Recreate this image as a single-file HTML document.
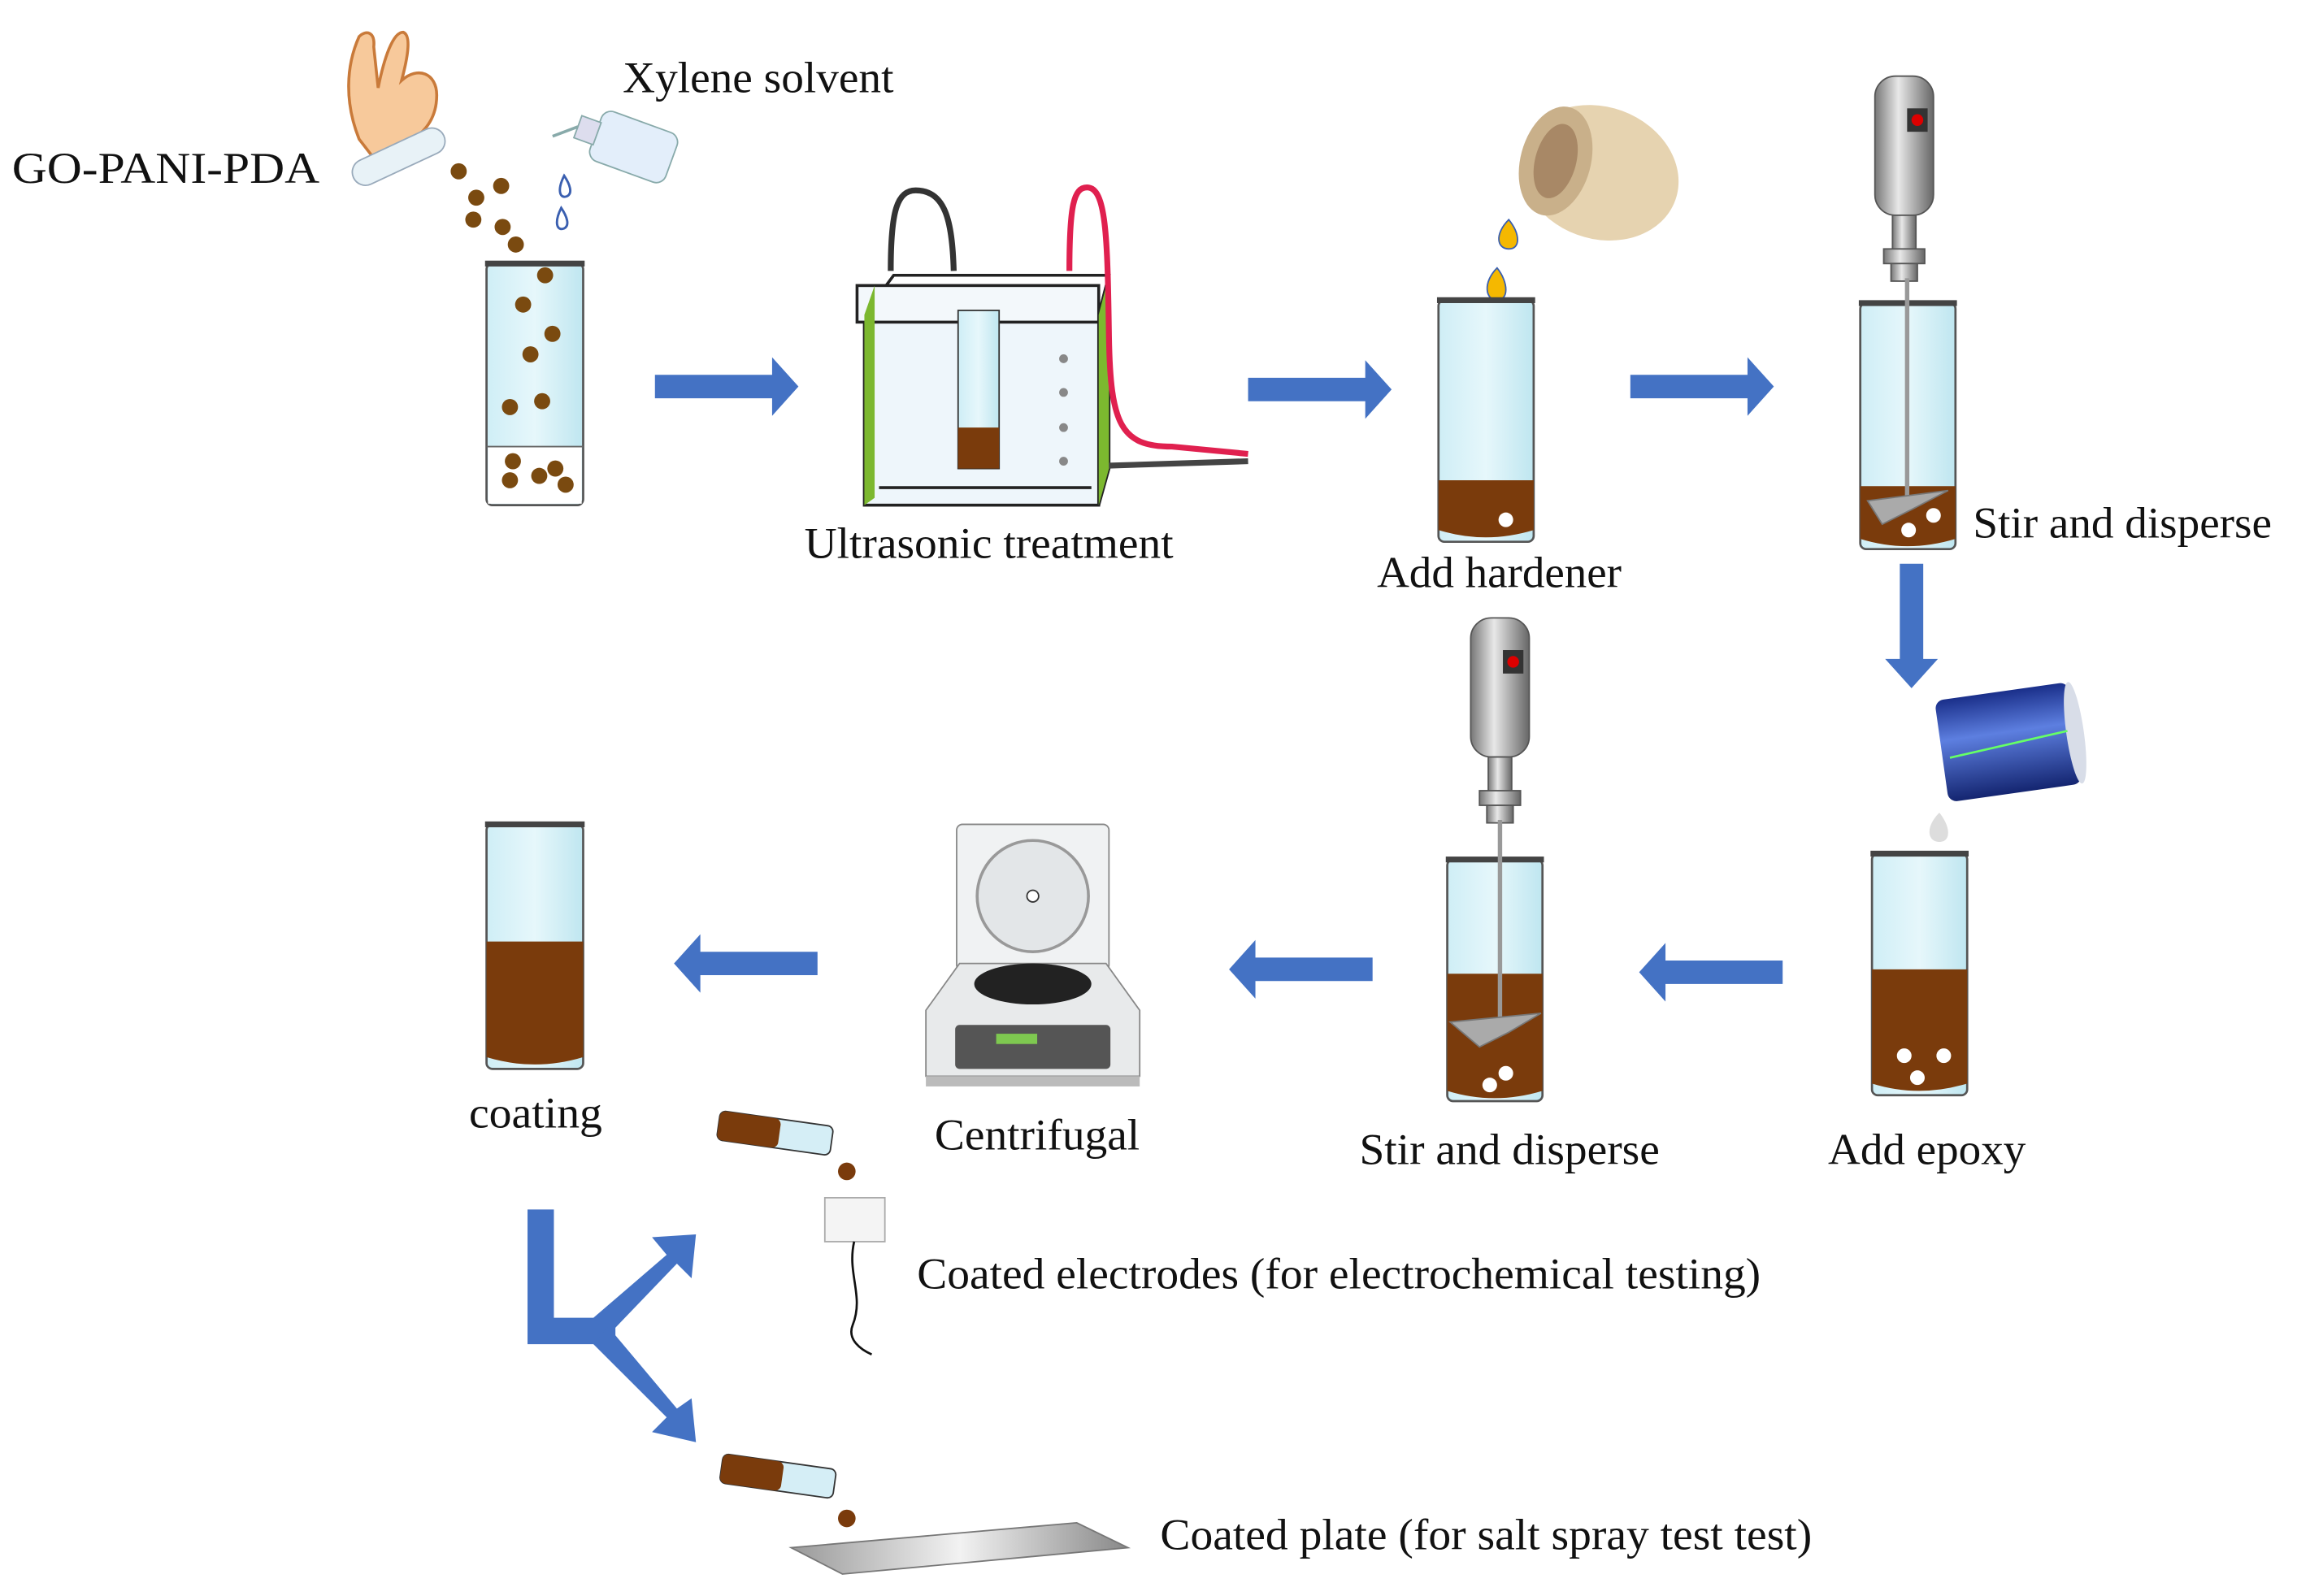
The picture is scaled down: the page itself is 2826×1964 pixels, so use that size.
<!DOCTYPE html>
<html><head><meta charset="utf-8"><style>html,body{margin:0;padding:0;background:#fff}svg{display:block}</style></head><body>
<svg width="2826" height="1964" viewBox="0 0 1568 1090" xmlns="http://www.w3.org/2000/svg" font-family="Liberation Serif, serif" font-size="30" fill="#111">
<defs>
<linearGradient id="gl" x1="0" x2="1"><stop offset="0" stop-color="#cfeef6"/><stop offset="0.5" stop-color="#e6f7fb"/><stop offset="1" stop-color="#bfe6f0"/></linearGradient>
<linearGradient id="met" x1="0" x2="1"><stop offset="0" stop-color="#777"/><stop offset="0.4" stop-color="#e8e8e8"/><stop offset="1" stop-color="#666"/></linearGradient>
<linearGradient id="can" x1="0" y1="0" x2="0" y2="1"><stop offset="0" stop-color="#1a2f8a"/><stop offset="0.4" stop-color="#5d7fe0"/><stop offset="1" stop-color="#142570"/></linearGradient>
<linearGradient id="plate" x1="0" x2="1"><stop offset="0" stop-color="#999"/><stop offset="0.5" stop-color="#f2f2f2"/><stop offset="1" stop-color="#888"/></linearGradient>
<g id="arr"><path d="M0,-8 H80 V-20 L98,0 L80,20 V8 H0 Z" fill="#4472c4"/></g>
<g id="larr"><path d="M0,-8 H-80 V-20 L-98,0 L-80,20 V8 H0 Z" fill="#4472c4"/></g>
<g id="motor">
<rect x="-20" y="0" width="40" height="95" rx="14" fill="url(#met)" stroke="#555"/>
<rect x="2" y="22" width="14" height="16" fill="#333"/><circle cx="9" cy="30" r="4" fill="#d00"/>
<rect x="-8" y="95" width="16" height="25" fill="url(#met)" stroke="#555"/>
<rect x="-14" y="118" width="28" height="10" fill="url(#met)" stroke="#555"/>
<rect x="-9" y="128" width="18" height="12" fill="url(#met)" stroke="#555"/>
</g>
</defs>

<!-- texts -->
<text x="8" y="125" textLength="210" lengthAdjust="spacingAndGlyphs">GO-PANI-PDA</text>
<text x="425" y="63" textLength="185" lengthAdjust="spacingAndGlyphs">Xylene solvent</text>
<text x="549" y="381" textLength="252" lengthAdjust="spacingAndGlyphs">Ultrasonic treatment</text>
<text x="940" y="401" textLength="167" lengthAdjust="spacingAndGlyphs">Add hardener</text>
<text x="1347" y="367" textLength="204" lengthAdjust="spacingAndGlyphs">Stir and disperse</text>
<text x="1248" y="795" textLength="135" lengthAdjust="spacingAndGlyphs">Add epoxy</text>
<text x="928" y="795" textLength="205" lengthAdjust="spacingAndGlyphs">Stir and disperse</text>
<text x="638" y="785" textLength="140" lengthAdjust="spacingAndGlyphs">Centrifugal</text>
<text x="320" y="770" textLength="91" lengthAdjust="spacingAndGlyphs">coating</text>
<text x="626" y="880" textLength="576" lengthAdjust="spacingAndGlyphs">Coated electrodes (for electrochemical testing)</text>
<text x="792" y="1058" textLength="445" lengthAdjust="spacingAndGlyphs">Coated plate (for salt spray test test)</text>

<!-- hand + tube -->
<path d="M245,95 C235,70 236,45 245,25 C250,20 256,22 255,32 L258,60 C262,40 268,22 275,22 C281,24 278,40 274,55 C285,45 298,50 298,65 C298,82 288,95 270,100 L255,108 Z" fill="#f7c99b" stroke="#c97a3a" stroke-width="2"/>
<rect x="238" y="98" width="68" height="18" rx="9" transform="rotate(-25 272 107)" fill="#e8f2f7" stroke="#9ab"/>
<!-- bottle -->
<g transform="rotate(20 420 98)"><rect x="405" y="78" width="55" height="36" rx="7" fill="#e3eefa" stroke="#8aa"/><rect x="392" y="88" width="14" height="16" fill="#dde" stroke="#8aa"/><path d="M392,96 L378,108" stroke="#8aa" stroke-width="2"/></g>
<g fill="#7a4a10">
<circle cx="313" cy="117" r="5.5"/><circle cx="342" cy="127" r="5.5"/><circle cx="325" cy="135" r="5.5"/><circle cx="323" cy="150" r="5.5"/><circle cx="343" cy="155" r="5.5"/><circle cx="352" cy="167" r="5.5"/>
</g>
<path d="M385,120 C380,130 382,136 387,134 C391,132 389,126 385,120Z" fill="none" stroke="#3a5fb0" stroke-width="1.6"/>
<path d="M383,142 C378,152 380,158 385,156 C389,154 387,148 383,142Z" fill="none" stroke="#3a5fb0" stroke-width="1.6"/>

<!-- beaker 1 -->
<rect x="332" y="180" width="66" height="165" rx="4" fill="url(#gl)" stroke="#555" stroke-width="1.5"/>
<rect x="333" y="305" width="64" height="39" fill="#fff"/>
<line x1="332" y1="305" x2="398" y2="305" stroke="#666"/>
<rect x="331" y="178" width="68" height="4" fill="#444"/>
<g fill="#7a4a10"><circle cx="372" cy="188" r="5.5"/><circle cx="357" cy="208" r="5.5"/><circle cx="377" cy="228" r="5.5"/><circle cx="362" cy="242" r="5.5"/><circle cx="348" cy="278" r="5.5"/><circle cx="370" cy="274" r="5.5"/><circle cx="350" cy="315" r="5.5"/><circle cx="348" cy="328" r="5.5"/><circle cx="368" cy="325" r="5.5"/><circle cx="379" cy="320" r="5.5"/><circle cx="386" cy="331" r="5.5"/></g>

<use href="#arr" x="447" y="264"/>

<!-- ultrasonic -->
<g stroke="#222" stroke-width="2" fill="none">
<rect x="590" y="215" width="160" height="130" fill="#eef6fb"/>
<path d="M590,215 L610,188 L757,188 L750,215"/>
<rect x="585" y="195" width="165" height="25" fill="#f3f8fb"/>
<path d="M750,215 L757,188 V320 L750,345"/>
<line x1="600" y1="333" x2="745" y2="333"/>
</g>
<path d="M750,215 L757,188 V320 L750,345Z" fill="#7cb82f"/>
<path d="M590,215 L597,195 V340 L590,345Z" fill="#7cb82f"/>
<rect x="654" y="212" width="28" height="108" fill="url(#gl)" stroke="#333"/>
<rect x="654" y="292" width="28" height="28" fill="#7a3b0c"/>
<g fill="#888"><circle cx="726" cy="245" r="3"/><circle cx="726" cy="268" r="3"/><circle cx="726" cy="292" r="3"/><circle cx="726" cy="315" r="3"/></g>
<path d="M608,185 C608,145 612,130 625,130 C645,130 650,150 651,185" fill="none" stroke="#333" stroke-width="4"/>
<path d="M730,185 C730,140 733,128 742,128 C755,128 756,160 757,230 C758,290 765,305 800,305 L852,310" fill="none" stroke="#e0204f" stroke-width="4"/>
<path d="M757,318 L852,315" stroke="#444" stroke-width="4"/>

<use href="#arr" x="852" y="266"/>

<!-- hardener pot -->
<ellipse cx="1092" cy="118" rx="55" ry="45" fill="#e6d3b0" transform="rotate(20 1092 118)"/>
<ellipse cx="1062" cy="110" rx="24" ry="38" fill="#c9b08a" transform="rotate(15 1062 110)"/>
<ellipse cx="1062" cy="110" rx="14" ry="26" fill="#a88866" transform="rotate(15 1062 110)"/>
<path d="M1030,150 C1020,160 1022,170 1030,170 C1038,170 1038,160 1030,150Z" fill="#f5b800" stroke="#3a5fb0"/>
<path d="M1022,183 C1012,193 1014,205 1022,205 C1030,205 1030,193 1022,183Z" fill="#f5b800" stroke="#3a5fb0"/>
<!-- beaker 2 -->
<rect x="982" y="205" width="65" height="165" rx="4" fill="url(#gl)" stroke="#555" stroke-width="1.5"/>
<path d="M982,328 H1047 V362 Q1014,372 982,362Z" fill="#7a3b0c"/>
<circle cx="1028" cy="355" r="5" fill="#fff"/>
<rect x="981" y="203" width="67" height="4" fill="#444"/>

<use href="#arr" x="1113" y="264"/>

<!-- stirrer 1 -->
<use href="#motor" x="1300" y="52"/>
<rect x="1270" y="207" width="65" height="168" rx="4" fill="url(#gl)" stroke="#555" stroke-width="1.5"/>
<path d="M1270,332 H1335 V368 Q1302,378 1270,368Z" fill="#7a3b0c"/>
<rect x="1269" y="205" width="67" height="4" fill="#444"/>
<line x1="1302" y1="190" x2="1302" y2="340" stroke="#999" stroke-width="3"/>
<path d="M1275,342 L1330,335 L1305,348 L1285,358Z" fill="#aaa" stroke="#777"/>
<circle cx="1320" cy="352" r="5" fill="#fff"/><circle cx="1303" cy="362" r="5" fill="#fff"/>

<!-- down arrow -->
<path d="M1297,385 H1313 V450 H1323 L1305,470 L1287,450 H1297Z" fill="#4472c4"/>
<!-- can -->
<g transform="rotate(-8 1370 506)"><rect x="1325" y="472" width="92" height="70" rx="6" fill="url(#can)"/><ellipse cx="1417" cy="507" rx="6" ry="35" fill="#d8dde8"/><line x1="1330" y1="512" x2="1412" y2="505" stroke="#6f6" stroke-width="1.5"/></g>
<!-- epoxy beaker -->
<path d="M1324,555 C1314,565 1316,575 1324,575 C1332,575 1332,565 1324,555Z" fill="#ddd"/>
<path d="M1320,594 C1310,604 1312,614 1320,614 C1328,614 1328,604 1320,594Z" fill="#ddd"/>
<rect x="1278" y="583" width="65" height="165" rx="4" fill="url(#gl)" stroke="#555" stroke-width="1.5"/>
<path d="M1278,662 H1343 V740 Q1310,750 1278,740Z" fill="#7a3b0c"/>
<rect x="1277" y="581" width="67" height="4" fill="#444"/>
<circle cx="1300" cy="721" r="5" fill="#fff"/><circle cx="1327" cy="721" r="5" fill="#fff"/><circle cx="1309" cy="736" r="5" fill="#fff"/>

<use href="#larr" x="1217" y="664"/>

<!-- stirrer 2 -->
<use href="#motor" x="1024" y="422"/>
<rect x="988" y="587" width="65" height="165" rx="4" fill="url(#gl)" stroke="#555" stroke-width="1.5"/>
<path d="M988,665 H1053 V745 Q1020,755 988,745Z" fill="#7a3b0c"/>
<rect x="987" y="585" width="67" height="4" fill="#444"/>
<line x1="1024" y1="560" x2="1024" y2="698" stroke="#999" stroke-width="3"/>
<path d="M990,698 L1052,692 L1030,705 L1010,715Z" fill="#aaa" stroke="#777"/>
<circle cx="1028" cy="733" r="5" fill="#fff"/><circle cx="1017" cy="741" r="5" fill="#fff"/>

<use href="#larr" x="937" y="662"/>

<!-- centrifuge -->
<rect x="653" y="563" width="104" height="100" rx="4" fill="#f0f2f3" stroke="#888"/>
<circle cx="705" cy="612" r="38" fill="#e3e6e8" stroke="#999" stroke-width="2"/>
<circle cx="705" cy="612" r="4" fill="#fff" stroke="#333"/>
<path d="M632,690 L655,658 H755 L778,690 V735 H632Z" fill="#e8eaeb" stroke="#888"/>
<ellipse cx="705" cy="672" rx="40" ry="14" fill="#222"/>
<rect x="652" y="700" width="106" height="30" rx="3" fill="#555"/>
<rect x="680" y="706" width="28" height="7" fill="#7ec850"/>
<rect x="632" y="735" width="146" height="7" fill="#bbb"/>

<use href="#larr" x="558" y="658"/>

<!-- coating beaker -->
<rect x="332" y="563" width="66" height="167" rx="4" fill="url(#gl)" stroke="#555" stroke-width="1.5"/>
<path d="M332,643 H398 V722 Q365,732 332,722Z" fill="#7a3b0c"/>
<rect x="331" y="561" width="68" height="4" fill="#444"/>

<!-- tube 1 -->
<g transform="rotate(8 530 774)"><rect x="490" y="764" width="78" height="20" rx="4" fill="#d5eef6" stroke="#333"/><rect x="490" y="764" width="42" height="20" rx="4" fill="#7a3b0c"/></g>
<circle cx="578" cy="800" r="6" fill="#7a3b0c"/>
<rect x="563" y="818" width="41" height="30" fill="#f4f4f4" stroke="#aaa"/>
<path d="M583,848 C578,870 590,885 582,905 C578,915 588,922 595,925" fill="none" stroke="#111" stroke-width="1.5"/>

<!-- branch arrow -->
<path d="M360,826 H378 V900 H420 V918 H360Z" fill="#4472c4"/>
<path d="M405,900 L455,857 L445,845 L475,843 L472,873 L462,863 L415,912Z" fill="#4472c4"/>
<path d="M405,918 L455,968 L445,978 L475,985 L472,955 L462,962 L415,906Z" fill="#4472c4"/>

<!-- tube 2 -->
<g transform="rotate(8 530 1008)"><rect x="492" y="998" width="78" height="20" rx="4" fill="#d5eef6" stroke="#333"/><rect x="492" y="998" width="42" height="20" rx="4" fill="#7a3b0c"/></g>
<circle cx="578" cy="1037" r="6" fill="#7a3b0c"/>
<path d="M540,1057 L735,1040 L770,1057 L575,1075Z" fill="url(#plate)" stroke="#777"/>
</svg>
</body></html>
